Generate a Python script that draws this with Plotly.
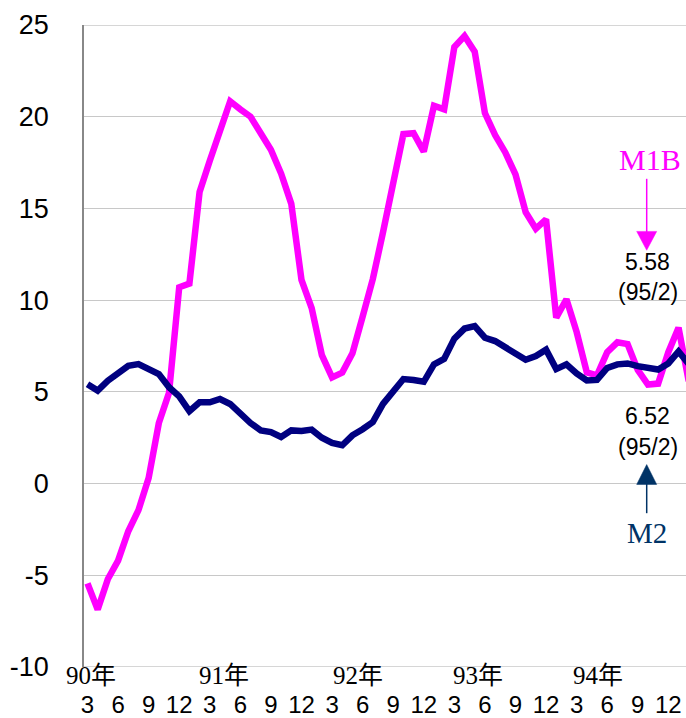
import plotly.graph_objects as go

# months 90/3 .. 95/2 (index 0..59)
m1b = [-5.44, -6.87, -5.2, -4.2, -2.6, -1.45, 0.3, 3.3, 4.95, 10.7,
       10.9, 15.9, 17.6, 19.2, 20.84, 20.4, 20.0, 19.1, 18.2, 16.9,
       15.25, 11.1, 9.57, 7.0, 5.79, 6.05, 7.1, 9.1, 11.15, 13.7,
       16.3, 19.05, 19.1, 18.1, 20.6, 20.4, 23.8, 24.4, 23.55, 20.2,
       19.0, 18.05, 16.85, 14.8, 13.9, 14.4, 9.05, 10.05, 8.27, 6.06,
       5.9, 7.16, 7.7, 7.6, 6.2, 5.4, 5.45, 7.16, 8.5, 5.58]
m2 = [5.42, 5.07, 5.61, 6.0, 6.42, 6.51, 6.25, 5.97, 5.25, 4.75,
      3.95, 4.43, 4.43, 4.61, 4.34, 3.8, 3.3, 2.9, 2.81, 2.54,
      2.9, 2.87, 2.94, 2.5, 2.22, 2.09, 2.63, 2.96, 3.35, 4.34,
      4.98, 5.7, 5.65, 5.55, 6.5, 6.8, 7.9, 8.45, 8.58, 7.95,
      7.77, 7.45, 7.08, 6.75, 6.95, 7.3, 6.24, 6.5, 6.0, 5.62,
      5.65, 6.3, 6.5, 6.55, 6.4, 6.3, 6.22, 6.55, 7.2, 6.52]
idx = list(range(len(m1b)))

month_ticks = list(range(0, 60, 3))
month_labels = ["3", "6", "9", "12"] * 5
year_labels = ["90年", "91年", "92年", "93年", "94年"]
year_pos = [0.35, 13.4, 26.5, 38.3, 50.1]
y_ticks = [-10, -5, 0, 5, 10, 15, 20, 25]
y_labels = ["-10", "-5", "0", "5", "10", "15", "20", "25"]

W, H = 686, 718
L, R, T, B = 84, 686, 25, 672


def px(x):
    return (x - L) / (R - L)


def py(y):
    return (B - y) / (B - T)


fig = go.Figure()
fig.add_trace(go.Scatter(x=idx, y=m1b, mode="lines", name="M1B",
                         line=dict(color="#FF00FF", width=6.5)))
fig.add_trace(go.Scatter(x=idx, y=m2, mode="lines", name="M2",
                         line=dict(color="#000080", width=6.5)))

sans = "Liberation Sans, Arial, sans-serif"
serif = "Liberation Serif, Times New Roman, Noto Sans CJK TC, serif"

annotations = []
for lab, xp in zip(year_labels, year_pos):
    annotations.append(dict(x=xp, y=py(681), xref="x", yref="paper", text=lab,
                            showarrow=False, xanchor="center", yanchor="middle",
                            font=dict(family=serif, size=25, color="black")))

annotations += [
    dict(x=px(650), y=py(161), xref="paper", yref="paper", text="M1B", showarrow=False,
         xanchor="center", yanchor="middle", font=dict(family=serif, size=30, color="#FF00FF")),
    dict(x=px(647.5), y=py(264), xref="paper", yref="paper", text="5.58", showarrow=False,
         xanchor="center", yanchor="middle", font=dict(family=sans, size=23, color="black")),
    dict(x=px(647.5), y=py(294), xref="paper", yref="paper", text="(95/2)", showarrow=False,
         xanchor="center", yanchor="middle", font=dict(family=sans, size=23, color="black")),
    dict(x=px(647.5), y=py(419), xref="paper", yref="paper", text="6.52", showarrow=False,
         xanchor="center", yanchor="middle", font=dict(family=sans, size=23, color="black")),
    dict(x=px(647.5), y=py(450), xref="paper", yref="paper", text="(95/2)", showarrow=False,
         xanchor="center", yanchor="middle", font=dict(family=sans, size=23, color="black")),
    dict(x=px(646.5), y=py(537), xref="paper", yref="paper", text="M2", showarrow=False,
         xanchor="center", yanchor="middle", font=dict(family=serif, size=29, color="#003366")),
]


def tri(p1, p2, p3):
    return "M {},{} L {},{} L {},{} Z".format(px(p1[0]), py(p1[1]), px(p2[0]), py(p2[1]),
                                              px(p3[0]), py(p3[1]))


shapes = [
    dict(type="line", xref="paper", yref="y", x0=0, x1=1, y0=-10, y1=-10,
         line=dict(color="#c8c8c8", width=1.5), layer="below"),
    dict(type="line", xref="paper", yref="y", x0=0, x1=1, y0=25, y1=25,
         line=dict(color="#c8c8c8", width=1.5), layer="below"),
    dict(type="line", xref="paper", yref="paper", x0=px(646.7), x1=px(646.7),
         y0=py(180), y1=py(235), line=dict(color="#FF00FF", width=1.5)),
    dict(type="path", xref="paper", yref="paper",
         path=tri((636.7, 233), (656.7, 233), (646.7, 252)),
         fillcolor="#FF00FF", line=dict(color="#FF00FF", width=0.5)),
    dict(type="line", xref="paper", yref="paper", x0=px(646.7), x1=px(646.7),
         y0=py(486), y1=py(517), line=dict(color="#003366", width=1.5)),
    dict(type="path", xref="paper", yref="paper",
         path=tri((636.7, 488), (656.7, 488), (646.7, 468)),
         fillcolor="#003366", line=dict(color="#003366", width=0.5)),
]

fig.update_layout(
    width=W, height=H,
    margin=dict(l=L, r=W - R, t=T, b=H - B, pad=0),
    paper_bgcolor="white", plot_bgcolor="white",
    showlegend=False,
    annotations=annotations,
    shapes=shapes,
    xaxis=dict(range=[-3.5 / 10.19, (R - 87.5) / 10.19], tickmode="array",
               tickvals=month_ticks, ticktext=month_labels, showgrid=False,
               zeroline=False, showline=False, ticks="",
               tickfont=dict(family=sans, size=24, color="black"),
               ticklabelstandoff=21),
    yaxis=dict(range=[-10, 25], tickmode="array", tickvals=y_ticks, ticktext=y_labels,
               showgrid=True, gridcolor="#c8c8c8", gridwidth=1,
               zeroline=False, showline=True, linecolor="#888888", linewidth=1.5,
               ticks="", tickfont=dict(family=sans, size=27, color="black"),
               ticklabelstandoff=28),
)

fig.write_html("out.html", config={"displayModeBar": False},
               post_script="document.body.style.margin='0';document.body.style.overflow='hidden';")
